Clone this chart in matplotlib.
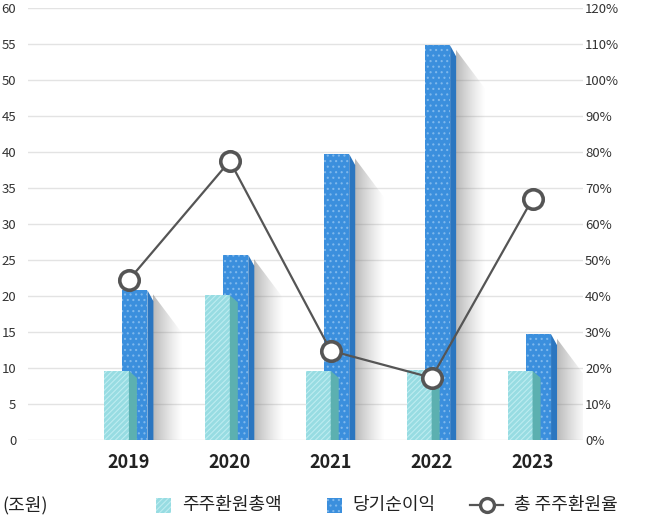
import matplotlib
matplotlib.use('Agg')
import matplotlib.pyplot as plt
from matplotlib.patches import Polygon, Rectangle
from matplotlib.lines import Line2D
import numpy as np

plt.rcParams['font.family'] = ['Noto Sans CJK KR', 'DejaVu Sans']
plt.rcParams['hatch.linewidth'] = 0.8

# data (조원 / %)
years = ['2019', '2020', '2021', '2022', '2023']
shareholder_return = [9.6, 20.1, 9.6, 9.7, 9.6]
net_income = [20.8, 25.7, 39.7, 54.8, 14.7]
return_ratio = [44.5, 77.5, 24.8, 17.3, 67.0]

TEAL = '#97dce2'
TEAL_HATCH = '#bdecf0'
TEAL_SIDE = '#5cb0b0'
BLUE = '#3b8fdd'
BLUE_HATCH = '#7fb8ec'
BLUE_SIDE = '#2b76c0'
LINE = '#555555'

fig = plt.figure(figsize=(6.72, 5.15), dpi=100)
ax = fig.add_axes([28 / 672, 75 / 515, 555 / 672, 432 / 515])
ax.set_xlim(-1, 4.5)
ax.set_ylim(0, 60)

# size of one pixel in data units
px = 5.5 / 555
py = 60 / 432

x = np.arange(len(years))

# shadows behind the blue bars
grad = np.zeros((1, 64, 4))
grad[..., :3] = 0.45
grad[..., 3] = np.linspace(0.55, 0.0, 64) ** 1.2
for xi, v in zip(x, net_income):
	x0 = xi + 24 * px
	sw = 30 * px
	poly = Polygon([(x0, v - 4 * py), (x0 + sw, v - 44 * py), (x0 + sw, 0), (x0, 0)],
				   closed=True, transform=ax.transData, facecolor='none', edgecolor='none')
	ax.add_patch(poly)
	im = ax.imshow(grad, extent=[x0, x0 + sw, 0, v], aspect='auto', zorder=1,
				   interpolation='bilinear')
	im.set_clip_path(poly)

# blue bars (front + side)
ax.bar(x + 6 * px, net_income, width=25 * px, color=BLUE, edgecolor=BLUE_HATCH,
	   linewidth=0, hatch='...', zorder=2)
for xi, v in zip(x, net_income):
	xr = xi + 18.5 * px
	ax.add_patch(Polygon([(xr, 0), (xr, v), (xr + 6 * px, v - 11 * py), (xr + 6 * px, 0)],
						 closed=True, facecolor=BLUE_SIDE, edgecolor='none', zorder=2))

# teal bars (front + side)
ax.bar(x - 12.5 * px, shareholder_return, width=25 * px, color=TEAL, edgecolor=TEAL_HATCH,
	   linewidth=0, hatch='//////', zorder=3)
for xi, v in zip(x, shareholder_return):
	xr = xi
	ax.add_patch(Polygon([(xr, 0), (xr, v), (xr + 8 * px, v - 7 * py), (xr + 8 * px, 0)],
						 closed=True, facecolor=TEAL_SIDE, edgecolor='none', zorder=3))

ax.set_xlim(-1, 4.5)
ax.set_ylim(0, 60)

ax.set_yticks(range(0, 61, 5))
ax.yaxis.grid(True, color='#e3e3e3', linewidth=1)
ax.set_axisbelow(True)
ax.tick_params(axis='y', length=0, pad=8.5, labelsize=9.5, labelcolor='#333333')
ax.set_xticks(x)
ax.set_xticklabels(years, fontsize=13, fontweight='bold', color='#222222')
ax.tick_params(axis='x', length=0, pad=9)
for s in ax.spines.values():
	s.set_visible(False)

# line on the right axis
ax2 = ax.twinx()
ax2.set_ylim(0, 120)
ax2.plot(x, return_ratio, color=LINE, linewidth=1.6, marker='o', markersize=14,
		 markerfacecolor='white', markeredgecolor=LINE, markeredgewidth=2.6, zorder=5)
ax2.set_yticks(range(0, 121, 10))
ax2.set_yticklabels([f'{t}%' for t in range(0, 121, 10)])
ax2.tick_params(axis='y', length=0, pad=1.5, labelsize=9.5, labelcolor='#333333')
for s in ax2.spines.values():
	s.set_visible(False)

# legend along the bottom
ly = 1 - 505 / 515
fig.text(2 / 672, ly, '(조원)', fontsize=13, va='center', ha='left', color='#222222')
fig.patches.append(Rectangle((156 / 672, 1 - 513 / 515), 15 / 672, 15 / 515,
							 transform=fig.transFigure, facecolor=TEAL, edgecolor=TEAL_HATCH,
							 linewidth=0, hatch='//////'))
fig.text(182 / 672, ly, '주주환원총액', fontsize=13, va='center', ha='left', color='#222222')
fig.patches.append(Rectangle((327 / 672, 1 - 513 / 515), 15 / 672, 15 / 515,
							 transform=fig.transFigure, facecolor=BLUE, edgecolor=BLUE_HATCH,
							 linewidth=0, hatch='...'))
fig.text(352 / 672, ly, '당기순이익', fontsize=13, va='center', ha='left', color='#222222')
fig.lines.append(Line2D([470 / 672, 503 / 672], [ly, ly], transform=fig.transFigure,
						color=LINE, linewidth=1.6))
fig.lines.append(Line2D([486.5 / 672], [ly], transform=fig.transFigure, color=LINE,
						marker='o', markersize=10, markerfacecolor='white',
						markeredgecolor=LINE, markeredgewidth=2.4))
fig.text(514 / 672, ly, '총 주주환원율', fontsize=13, va='center', ha='left', color='#222222')

fig.savefig('out.png', dpi=100)
